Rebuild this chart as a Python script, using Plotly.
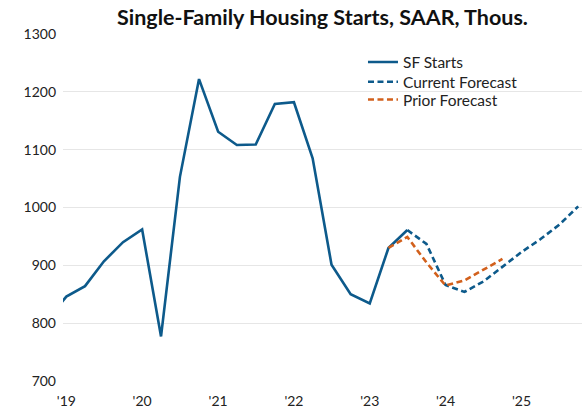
import plotly.graph_objects as go

sf_dates = ["2018-10-01", "2019-01-01", "2019-04-01", "2019-07-01", "2019-10-01",
            "2020-01-01", "2020-04-01", "2020-07-01", "2020-10-01",
            "2021-01-01", "2021-04-01", "2021-07-01", "2021-10-01",
            "2022-01-01", "2022-04-01", "2022-07-01", "2022-10-01",
            "2023-01-01", "2023-04-01", "2023-07-01"]
sf_starts = [805, 846, 864, 907, 940,
             962, 777, 1053, 1222,
             1131, 1108, 1109, 1179,
             1182, 1085, 901, 850,
             834, 930, 961]

cur_dates = ["2023-07-01", "2023-10-01", "2024-01-01", "2024-04-01", "2024-07-01",
             "2024-10-01", "2025-01-01", "2025-04-01", "2025-07-01", "2025-10-01"]
cur_fcst = [961, 937, 866, 854, 872, 898, 923, 945, 970, 1002]

prior_dates = ["2023-04-01", "2023-07-01", "2023-10-01", "2024-01-01",
               "2024-04-01", "2024-07-01", "2024-10-01"]
prior_fcst = [930, 949, 905, 865, 874, 892, 911]

tick_vals = ["2019-01-01", "2020-01-01", "2021-01-01", "2022-01-01",
             "2023-01-01", "2024-01-01", "2025-01-01"]
tick_text = ["'19", "'20", "'21", "'22", "'23", "'24", "'25"]

BLUE = "#0d5a8b"
ORANGE = "#d2601c"

fig = go.Figure()
fig.add_trace(go.Scatter(x=sf_dates, y=sf_starts, mode="lines", name="SF Starts",
                         legend="legend",
                         line=dict(color=BLUE, width=2.6)))
fig.add_trace(go.Scatter(x=cur_dates, y=cur_fcst, mode="lines", name="Current Forecast",
                         legend="legend2",
                         line=dict(color=BLUE, width=2.6, dash="6px,3.5px")))
fig.add_trace(go.Scatter(x=prior_dates, y=prior_fcst, mode="lines", name="Prior Forecast",
                         legend="legend3",
                         line=dict(color=ORANGE, width=2.6, dash="6px,3.5px")))

leg_common = dict(x=0.578, xanchor="left", yanchor="top",
                  bgcolor="rgba(0,0,0,0)", borderwidth=0,
                  font=dict(size=15.5, color="#222222"), itemwidth=30)

fig.update_layout(
    width=587, height=411,
    margin=dict(l=63, r=5, t=34, b=30),
    paper_bgcolor="white", plot_bgcolor="white",
    font=dict(family="Lato, sans-serif", size=14, color="#222222"),
    title=dict(text="<b>Single-Family Housing Starts, SAAR, Thous.</b>",
               x=0.5, xref="paper", xanchor="center", y=0.975, yref="container",
               font=dict(family="Lato, sans-serif", size=21.5, color="#111111")),
    showlegend=True,
    legend=dict(y=0.967, **leg_common),
    legend2=dict(y=0.910, **leg_common),
    legend3=dict(y=0.859, **leg_common),
    xaxis=dict(type="date", range=["2018-12-16", "2025-10-19"],
               tickvals=tick_vals, ticktext=tick_text,
               showgrid=False, zeroline=False, showline=False, ticks="",
               ticklabelstandoff=10, automargin=False,
               tickfont=dict(size=14, color="#222222")),
    yaxis=dict(range=[700, 1300], tickvals=[700, 800, 900, 1000, 1100, 1200, 1300],
               showgrid=True, gridcolor="#e6e6e6", gridwidth=1,
               zeroline=False, showline=False, ticks="", ticklabelstandoff=6,
               automargin=False,
               tickfont=dict(size=14, color="#222222")),
)

fig.write_html("out.html", config={"displayModeBar": False},
               post_script="document.body.style.margin='0px';")
